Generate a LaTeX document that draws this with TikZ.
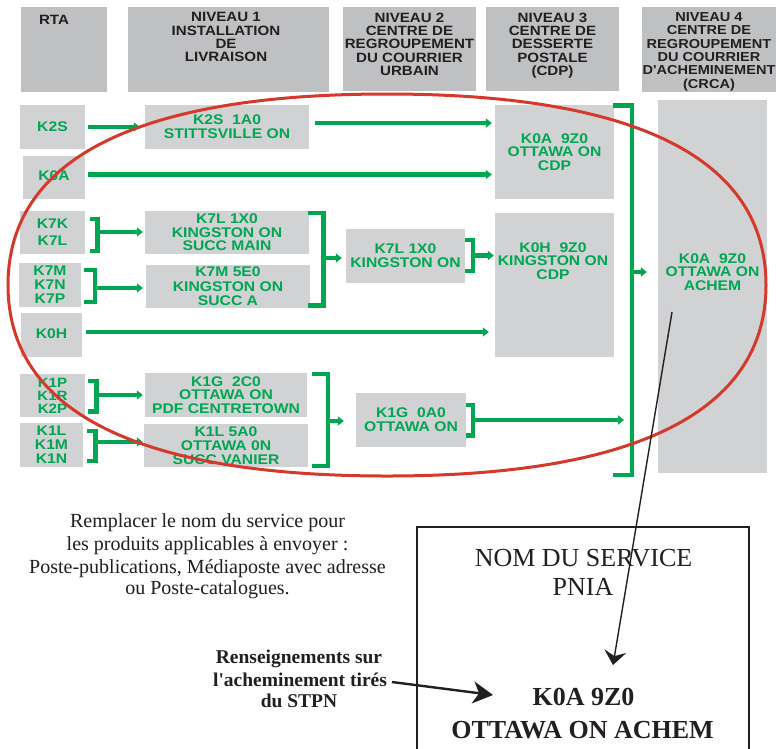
\documentclass[tikz,border=0pt]{standalone}
\usepackage{fontspec}
\setmainfont{Liberation Serif}[Ligatures=TeXOff]
\setsansfont{Liberation Sans}[FakeStretch=1.12,Ligatures=TeXOff]
\usetikzlibrary{arrows.meta}
\definecolor{pgreen}{HTML}{00A651}
\definecolor{hgray}{HTML}{BFC0C2}
\definecolor{bgray}{HTML}{D1D2D4}
\definecolor{pred}{HTML}{D5392B}
\definecolor{htext}{HTML}{231F20}
\begin{document}
\begin{tikzpicture}[x=1pt,y=-1pt,
  hdr/.style={fill=hgray, draw=none, inner sep=0, anchor=north west},
  htxt/.style={text=htext, align=center, anchor=north, inner sep=0, font=\sffamily\bfseries\fontsize{13.5}{13.3}\selectfont},
  gbox/.style={fill=bgray, inner sep=0, text=pgreen, align=center, font=\sffamily\bfseries\fontsize{14}{13.5}\selectfont},
  gtxt/.style={inner sep=0, text=pgreen, align=center, font=\sffamily\bfseries\fontsize{14}{13.5}\selectfont},
  gline/.style={draw=pgreen, line width=4.5pt, line join=miter},
  garrow/.style={draw=pgreen, line width=4.5pt, -{Triangle[length=6pt,width=9pt]}},
  redring/.style={draw=pred, line width=3pt},
  blk/.style={draw=htext, line width=1.4pt},
  ptxt/.style={text=htext, inner sep=0, anchor=base, font=\fontsize{20}{22.5}\selectfont},
  btxt/.style={text=htext, inner sep=0, anchor=base, font=\bfseries\fontsize{19.5}{22}\selectfont},
  boxtxt/.style={text=htext, inner sep=0, anchor=base, font=\fontsize{26}{29}\selectfont}
]
\useasboundingbox (0,0) rectangle (776,748);
\fill[white] (0,0) rectangle (776,748);

% ---------- headers ----------
\node[hdr, minimum width=86, minimum height=85] (hRTA) at (21,7) {};
\node[hdr, minimum width=201, minimum height=85] (h1) at (128,7) {};
\node[hdr, minimum width=133, minimum height=84] (h2) at (343,7) {};
\node[hdr, minimum width=133, minimum height=84] (h3) at (486,7) {};
\node[hdr, minimum width=134, minimum height=85] (h4) at (642,7) {};
\node[htxt] (tRTA) at (54,15) {RTA};
\node[htxt] (t1) at (226,12.5) {NIVEAU 1\\INSTALLATION\\DE\\LIVRAISON};
\node[htxt] (t2) at (409.5,12.5) {NIVEAU 2\\CENTRE DE\\REGROUPEMENT\\DU COURRIER\\URBAIN};
\node[htxt] (t3) at (552.5,12.5) {NIVEAU 3\\CENTRE DE\\DESSERTE\\POSTALE\\(CDP)};
\node[htxt, font=\sffamily\bfseries\fontsize{13}{13.3}\selectfont] (t4) at (709,12.5) {NIVEAU 4\\CENTRE DE\\REGROUPEMENT\\DU COURRIER\\D'ACHEMINEMENT\\(CRCA)};

% ---------- RTA boxes ----------
\node[gbox, minimum width=65, minimum height=44] (rK2S) at (52.5,127) {K2S};
\node[gbox, minimum width=62, minimum height=43] (rK0A) at (54,177.5) {\raisebox{3pt}{K0A}};
\node[gbox, minimum width=65, minimum height=43, font=\sffamily\bfseries\fontsize{14}{17}\selectfont] (rK7K) at (52.5,232.5) {K7K\\K7L};
\node[gbox, minimum width=62, minimum height=44, font=\sffamily\bfseries\fontsize{14}{14}\selectfont] (rK7M) at (50,285) {K7M\\K7N\\K7P};
\node[gbox, minimum width=61, minimum height=44] (rK0H) at (51.5,335) {\raisebox{3pt}{K0H}};
\node[gbox, minimum width=65, minimum height=43, font=\sffamily\bfseries\fontsize{13.5}{13}\selectfont] (rK1P) at (52.5,395.5) {K1P\\K1R\\K2P};
\node[gbox, minimum width=63, minimum height=44, font=\sffamily\bfseries\fontsize{14}{14}\selectfont] (rK1L) at (51.5,445) {K1L\\K1M\\K1N};

% ---------- level 1 ----------
\node[gbox, minimum width=164, minimum height=44, font=\sffamily\bfseries\fontsize{14}{14}\selectfont] (n1a) at (227,127) {K2S\ \ 1A0\\STITTSVILLE ON};
\node[gbox, minimum width=164, minimum height=43] (n1b) at (227,232.5) {K7L 1X0\\KINGSTON ON\\SUCC MAIN};
\node[gbox, minimum width=164, minimum height=43, font=\sffamily\bfseries\fontsize{14}{14.5}\selectfont] (n1c) at (228,286.5) {K7M 5E0\\KINGSTON ON\\SUCC A};
\node[gbox, minimum width=162, minimum height=44] (n1d) at (226,395) {K1G\ \ 2C0\\OTTAWA ON\\PDF CENTRETOWN};
\node[gbox, minimum width=164, minimum height=43, font=\sffamily\bfseries\fontsize{14}{14}\selectfont] (n1e) at (226,445.5) {K1L 5A0\\OTTAWA 0N\\SUCC VANIER};

% ---------- level 2 ----------
\node[gbox, minimum width=119, minimum height=54, font=\sffamily\bfseries\fontsize{14}{14}\selectfont] (n2a) at (405.5,256) {K7L 1X0\\KINGSTON ON};
\node[gbox, minimum width=110, minimum height=54, font=\sffamily\bfseries\fontsize{14}{14}\selectfont] (n2b) at (411,420) {K1G\ \ 0A0\\OTTAWA ON};

% ---------- level 3 ----------
\node[gbox, minimum width=119, minimum height=94] (n3a) at (554.5,152) {K0A\ \ 9Z0\\OTTAWA ON\\CDP};
\node[gbox, minimum width=119, minimum height=144] (n3b) at (554.5,285) {};
\node[gtxt] (n3bt) at (553,261) {K0H\ \ 9Z0\\KINGSTON ON\\CDP};

% ---------- level 4 ----------
\node[gbox, minimum width=109, minimum height=373] (n4) at (712.5,286.5) {};
\node[gtxt] (n4t) at (712.5,272) {K0A\ \ 9Z0\\OTTAWA ON\\ACHEM};

% ---------- straight green arrows ----------
\draw[garrow, shorten <=3pt, shorten >=5pt] (rK2S.east) -- (rK2S.east -| n1a.west);
\draw[garrow, shorten <=6pt, shorten >=3pt] ([yshift=4pt]n1a.east) -- ([yshift=4pt]n1a.east -| n3a.west);
\draw[garrow, shorten <=3pt, shorten >=3pt] ([yshift=3pt]rK0A.east) -- ([yshift=3pt]rK0A.east -| n3a.west);
\draw[garrow, shorten <=4pt, shorten >=6pt] ([yshift=3pt]rK0H.east) -- ([yshift=3pt]rK0H.east -| n3b.west);

% ---------- brackets ----------
\draw[gline] (90,219) -- (97.5,219) -- (97.5,251) -- (90,251);
\coordinate (b1) at (97.5,232);
\draw[garrow, shorten >=2pt] (b1) -- (b1 -| n1b.west);

\draw[gline] (84,270) -- (95,270) -- (95,302) -- (84,302);
\coordinate (b2) at (95,288);
\draw[garrow, shorten >=3pt] (b2) -- (b2 -| n1c.west);

\draw[gline] (308,213) -- (323.5,213) -- (323.5,305.5) -- (308,305.5);
\coordinate (b3) at (323.5,258);
\draw[garrow, shorten >=4pt] (b3) -- (b3 -| n2a.west);

\draw[gline] (465,240) -- (473,240) -- (473,271) -- (465,271);
\coordinate (b4) at (473,255.5);
\draw[garrow, shorten >=1pt] (b4) -- (b4 -| n3b.west);

\draw[gline] (88,381) -- (96.5,381) -- (96.5,411.5) -- (88,411.5);
\coordinate (b5) at (96.5,395);
\draw[garrow, shorten >=2pt] (b5) -- (b5 -| n1d.west);

\draw[gline] (87,431) -- (95.5,431) -- (95.5,461) -- (87,461);
\coordinate (b6) at (95.5,442);
\draw[garrow, shorten >=1pt] (b6) -- (b6 -| n1e.west);

\draw[gline] (312,374) -- (328,374) -- (328,466) -- (312,466);
\coordinate (b7) at (328,421);
\draw[garrow, shorten >=12pt] (b7) -- (b7 -| n2b.west);

\draw[gline] (612.5,105.5) -- (632,105.5) -- (632,475) -- (612.5,475);
\coordinate (b9) at (632,272);
\draw[garrow, shorten >=11pt] (b9) -- (b9 -| n4.west);

\draw[gline] (466,405) -- (473,405) -- (473,435.5) -- (466,435.5);
\coordinate (b8) at (473,420);
\draw[garrow, shorten >=8pt] (b8) -- (b8 -| b9);

% ---------- red ring ----------
\draw[redring] (766,285) .. controls (766,411.1) and (637.1,476) .. (387,476)
  .. controls (136.9,476) and (8,411.1) .. (8,285)
  .. controls (8,158.9) and (136.9,94) .. (387,94)
  .. controls (637.1,94) and (766,158.9) .. (766,285) -- cycle;

% ---------- lower part ----------
\draw[draw=htext, line width=2pt] (417,752) -- (417,527) -- (749,527) -- (749,752);
\node[boxtxt] (tNom) at (583.5,566) {NOM DU SERVICE};
\node[boxtxt] (tPnia) at (583,595) {PNIA};
\node[boxtxt, font=\bfseries\fontsize{26}{29}\selectfont] (tK0A) at (583.5,705) {K0A 9Z0};
\node[boxtxt, font=\bfseries\fontsize{26}{29}\selectfont] (tOtt) at (582.5,738) {OTTAWA ON ACHEM};

\node[ptxt] (p1) at (207.5,527) {Remplacer le nom du service pour};
\node[ptxt] (p2) at (207.5,550) {les produits applicables à envoyer :};
\node[ptxt] (p3) at (207.5,573) {Poste-publications, Médiaposte avec adresse};
\node[ptxt] (p4) at (207.5,594.5) {ou Poste-catalogues.};

\node[btxt] (r1) at (299,663) {Renseignements sur};
\node[btxt] (r2) at (300,686) {l'acheminement tirés};
\node[btxt] (r3) at (299,707.5) {du STPN};

\coordinate (pA) at (672,312);
\coordinate (pB) at (613,665);
\draw[blk, -{Stealth[length=14pt,width=22pt,inset=5pt]}] (pA) -- (pB);

\coordinate (qA) at (392,682);
\coordinate (qB) at (493,695);
\draw[draw=htext, line width=2.4pt, -{Stealth[length=20pt,width=22pt,inset=6pt]}] (qA) -- (qB);
\end{tikzpicture}
\end{document}
